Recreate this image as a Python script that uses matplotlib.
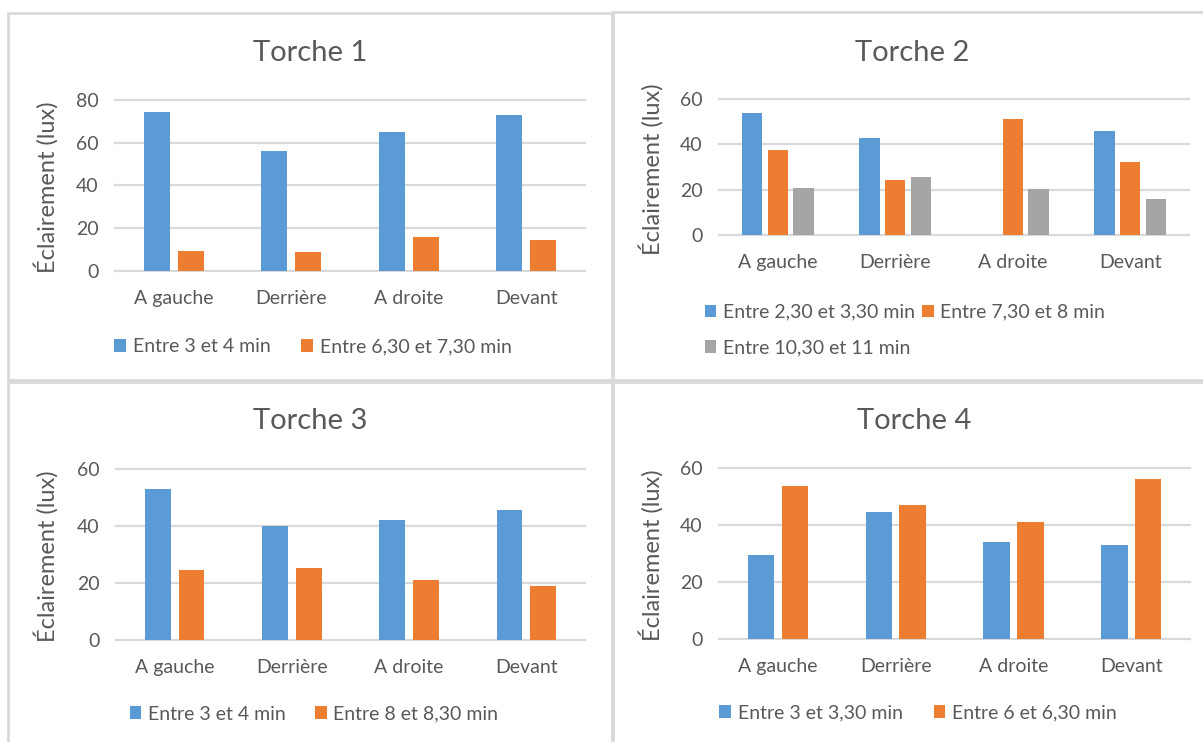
import numpy as np
import matplotlib
matplotlib.use("Agg")
import matplotlib.pyplot as plt
from matplotlib.patches import Rectangle

plt.rcParams['font.family'] = ['Lato', 'DejaVu Sans']

# data
categories = ['A gauche', 'Derrière', 'A droite', 'Devant']

t1_a = [74.6, 56.0, 65.1, 73.1]
t1_b = [9.4, 8.8, 15.6, 14.4]
t1_labels = ['Entre 3 et 4 min', 'Entre 6,30 et 7,30 min']

t2_a = [53.8, 42.9, np.nan, 45.9]
t2_b = [37.4, 24.4, 51.0, 32.1]
t2_c = [20.9, 25.4, 20.4, 15.9]
t2_labels = ['Entre 2,30 et 3,30 min', 'Entre 7,30 et 8 min', 'Entre 10,30 et 11 min']

t3_a = [53.2, 40.1, 42.1, 45.6]
t3_b = [24.6, 25.4, 21.0, 19.0]
t3_labels = ['Entre 3 et 4 min', 'Entre 8 et 8,30 min']

t4_a = [29.3, 44.5, 34.1, 32.8]
t4_b = [53.6, 46.9, 40.9, 56.0]
t4_labels = ['Entre 3 et 3,30 min', 'Entre 6 et 6,30 min']

W, H = 1203, 742
BLUE, ORANGE, GREY = '#5B9BD5', '#ED7D31', '#A5A5A5'
TXT = '#595959'
GRID = '#D9D9D9'

fig = plt.figure(figsize=(W / 100, H / 100), dpi=100)


def fx(x):
    return x / W


def fy(y):
    return 1 - y / H


def panel(x0, y0, x1, y1):
    fig.patches.append(Rectangle((fx(x0), fy(y1)), fx(x1 - x0), (y1 - y0) / H,
                                 transform=fig.transFigure, fill=False,
                                 edgecolor=GRID, linewidth=2))


def chart(box, title, title_xy, ylab_x, series, labels, colors, ymax,
          offsets, width, leg_xy, ncol, colspace):
    x0, y0, x1, y1 = box
    ax = fig.add_axes([fx(x0), fy(y1), fx(x1 - x0), (y1 - y0) / H])
    x = np.arange(len(categories))
    handles = []
    for vals, off, c, lab in zip(series, offsets, colors, labels):
        h = ax.bar(x + off, vals, width=width, color=c, linewidth=0, label=lab,
                   zorder=3)
        handles.append(h)
    ax.set_xlim(-0.5, len(categories) - 0.5)
    ax.set_ylim(0, ymax)
    ax.set_yticks(np.arange(0, ymax + 1, 20))
    ax.set_xticks(x)
    ax.set_xticklabels(categories)
    for s in ax.spines.values():
        s.set_visible(False)
    ax.grid(True, axis='y', color=GRID, linewidth=1.6, zorder=0)
    for gl in ax.get_ygridlines():
        gl.set_clip_on(False)
    ax.tick_params(axis='both', length=0, labelsize=14, labelcolor=TXT)
    ax.tick_params(axis='y', pad=12)
    ax.tick_params(axis='x', pad=14)
    fig.text(fx(title_xy[0]), fy(title_xy[1]), title, fontsize=21,
             color=TXT, ha='center', va='center')
    fig.text(fx(ylab_x), fy((y0 + y1) / 2 + 2), 'Éclairement (lux)',
             fontsize=17, color=TXT, rotation=90, ha='center', va='center')
    if len(handles) == 3:
        handles = [handles[0], handles[2], handles[1]]
        labels = [labels[0], labels[2], labels[1]]
    fig.legend(handles, labels, loc='center',
               bbox_to_anchor=(fx(leg_xy[0]), fy(leg_xy[1])),
               ncol=ncol, frameon=False, fontsize=14, labelcolor=TXT,
               handlelength=0.6, handleheight=0.6, handletextpad=0.35,
               columnspacing=colspace, labelspacing=0.95, borderpad=0)
    return ax


# panel borders
panel(8, 13, 612, 380)
panel(613, 12, 1210, 380)
panel(8, 382, 612, 750)
panel(613, 382, 1210, 750)

chart((115, 100, 585, 270.7), 'Torche 1', (310, 53), 46,
      [t1_a, t1_b], t1_labels, [BLUE, ORANGE], 80,
      [-0.144, 0.144], 0.22, (313, 347), 2, 1.6)

chart((719, 99, 1189, 235), 'Torche 2', (912, 53), 651,
      [t2_a, t2_b, t2_c], t2_labels, [BLUE, ORANGE, GREY], 60,
      [-0.22, 0.0, 0.22], 0.174, (905, 330), 2, 0.35)

chart((116, 469.3, 585, 640), 'Torche 3', (310, 421), 46,
      [t3_a, t3_b], t3_labels, [BLUE, ORANGE], 60,
      [-0.144, 0.144], 0.22, (314, 714), 2, 1.5)

chart((719, 468, 1190, 638.7), 'Torche 4', (914, 421), 651,
      [t4_a, t4_b], t4_labels, [BLUE, ORANGE], 60,
      [-0.143, 0.145], 0.225, (918, 713), 2, 1.6)

fig.savefig('out.png', dpi=100, facecolor='white')
